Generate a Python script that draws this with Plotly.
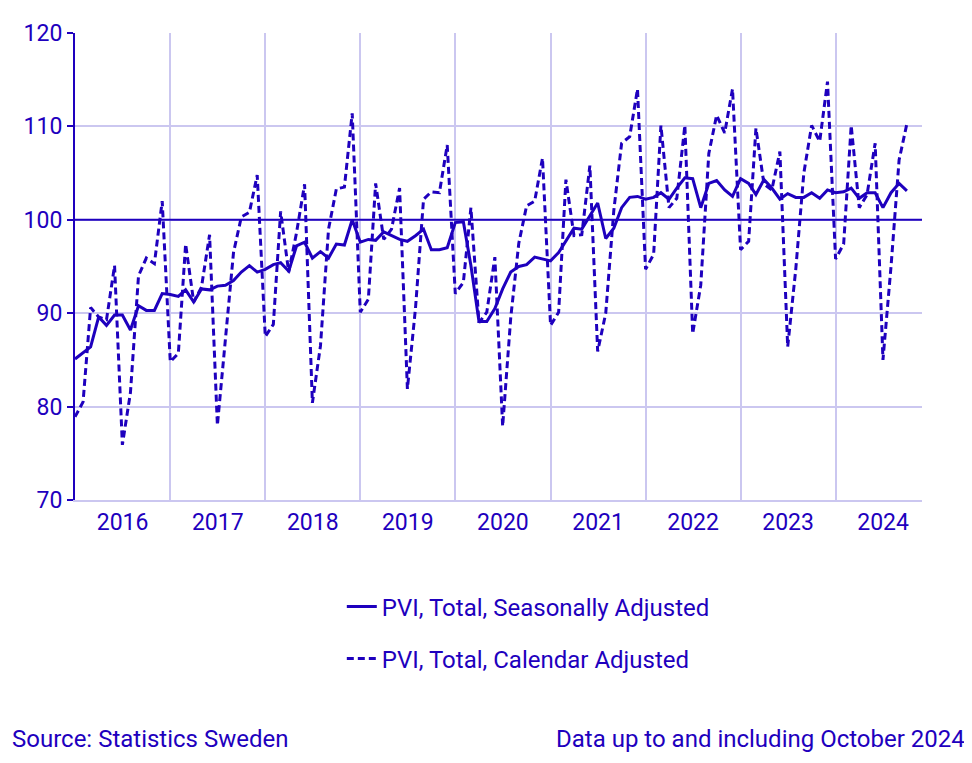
import pandas as pd
import plotly.graph_objects as go

months = pd.date_range("2016-01-01", "2024-10-01", freq="MS")

seasonally_adjusted = [
    85.1, 85.8, 86.4, 89.6, 88.7, 89.8, 89.8, 88.2, 90.8, 90.3, 90.3, 92.1,
    92.0, 91.8, 92.5, 91.2, 92.6, 92.5, 92.9, 93.0, 93.5, 94.4, 95.1, 94.4,
    94.7, 95.2, 95.4, 94.5, 97.2, 97.6, 95.9, 96.6, 95.9, 97.4, 97.3, 100.0,
    97.6, 97.9, 97.8, 98.7, 98.3, 97.9, 97.7, 98.3, 99.0, 96.8, 96.8, 97.0,
    99.7, 99.8, 95.1, 89.1, 89.1, 90.5, 92.6, 94.4, 95.0, 95.2, 96.0, 95.8,
    95.6, 96.5, 97.7, 99.1, 99.0, 100.4, 101.8, 98.0, 99.1, 101.3, 102.4, 102.5,
    102.2, 102.4, 102.9, 102.2, 103.4, 104.5, 104.4, 101.3, 103.9, 104.2, 103.2, 102.5,
    104.4, 103.9, 102.7, 104.3, 103.4, 102.2, 102.8, 102.4, 102.4, 102.9, 102.3, 103.2,
    102.9, 103.0, 103.4, 102.3, 102.9, 102.9, 101.3, 102.9, 103.9, 103.1,
]

calendar_adjusted = [
    78.9, 80.5, 90.6, 89.6, 89.3, 95.1, 75.9, 81.5, 94.0, 95.9, 95.3, 102.0,
    84.8, 85.7, 97.4, 91.2, 92.8, 98.4, 78.0, 87.0, 96.5, 100.3, 100.8, 104.8,
    87.5, 88.8, 100.9, 94.4, 98.6, 103.8, 80.4, 86.5, 99.0, 103.3, 103.5, 111.4,
    90.1, 91.5, 103.9, 97.9, 99.0, 103.4, 81.9, 90.5, 102.2, 103.0, 102.9, 108.0,
    92.1, 93.3, 101.3, 89.0, 90.1, 96.0, 77.9, 89.5, 97.5, 101.5, 102.0, 106.6,
    88.7, 90.1, 104.3, 98.3, 98.4, 105.8, 85.9, 90.0, 101.0, 108.2, 108.9, 114.0,
    94.7, 96.3, 110.1, 101.3, 102.3, 110.1, 87.8, 93.0, 107.1, 111.2, 109.3, 114.0,
    96.8, 97.7, 109.8, 103.8, 103.2, 107.3, 86.4, 94.7, 105.0, 110.1, 108.4, 114.8,
    95.8, 97.4, 110.1, 101.3, 102.7, 108.2, 85.0, 95.0, 106.4, 110.3,
]

series_names = ["PVI, Total, Seasonally Adjusted", "PVI, Total, Calendar Adjusted"]
source_text = "Source: Statistics Sweden"
note_text = "Data up to and including October 2024"

BLUE = "#1E00BE"
GRID = "#CBC7F0"
FONT = "Roboto"

fig = go.Figure()
fig.add_trace(go.Scatter(
    x=months, y=seasonally_adjusted, mode="lines", name=series_names[0],
    line=dict(color=BLUE, width=3), legend="legend",
))
fig.add_trace(go.Scatter(
    x=months, y=calendar_adjusted, mode="lines", name=series_names[1],
    line=dict(color=BLUE, width=3, dash="7px,4px"), legend="legend2",
))

fig.add_shape(type="line", xref="paper", x0=0, x1=1, yref="y", y0=100, y1=100,
              line=dict(color=BLUE, width=2), layer="above")

fig.update_layout(
    width=964, height=755,
    margin=dict(l=67, r=50, t=21, b=263),
    paper_bgcolor="white", plot_bgcolor="white",
    font=dict(family=FONT, size=24, color=BLUE),
    xaxis=dict(
        type="date",
        range=["2016-01-01", "2024-11-28"],
        tick0="2016-01-01", dtick="M12",
        tickformat="%Y", ticklabelmode="period",
        showgrid=True, gridcolor=GRID, gridwidth=2,
        showline=True, linecolor=GRID, linewidth=2,
        ticks="", tickfont=dict(size=23, color=BLUE),
        zeroline=False,
    ),
    yaxis=dict(
        range=[70, 120], dtick=10, tick0=70,
        showgrid=True, gridcolor=GRID, gridwidth=2,
        showline=True, linecolor=BLUE, linewidth=2,
        ticks="outside", ticklen=6, tickcolor=BLUE, tickwidth=2,
        tickfont=dict(size=23, color=BLUE),
        zeroline=False,
    ),
    showlegend=True,
    legend=dict(x=0.315, y=-0.229, xanchor="left", yanchor="middle",
                font=dict(size=24, color=BLUE), bgcolor="rgba(0,0,0,0)"),
    legend2=dict(x=0.315, y=-0.340, xanchor="left", yanchor="middle",
                 font=dict(size=24, color=BLUE), bgcolor="rgba(0,0,0,0)"),
    annotations=[
        dict(text=source_text, xref="paper", yref="paper", x=-0.0767, y=-0.512,
             xanchor="left", yanchor="middle", showarrow=False,
             font=dict(size=24, color=BLUE)),
        dict(text=note_text, xref="paper", yref="paper", x=1.053, y=-0.512,
             xanchor="right", yanchor="middle", showarrow=False,
             font=dict(size=24, color=BLUE)),
    ],
)

fig.write_html("out.html")
